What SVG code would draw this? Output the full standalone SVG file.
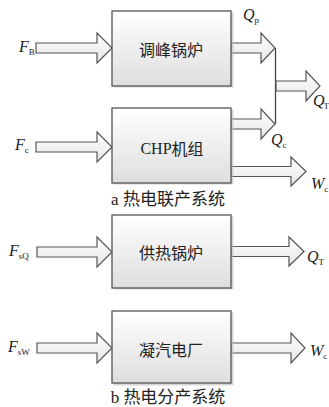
<svg xmlns="http://www.w3.org/2000/svg" width="329" height="407" viewBox="0 0 329 407">
<defs>
<linearGradient id="boxg" x1="0" y1="0" x2="0" y2="1">
<stop offset="0" stop-color="#ffffff"/>
<stop offset="1" stop-color="#dedede"/>
</linearGradient>
<linearGradient id="arrg" x1="0" y1="0" x2="0" y2="1">
<stop offset="0" stop-color="#ffffff"/>
<stop offset="1" stop-color="#e6e6e6"/>
</linearGradient>
</defs>
<style>
.box{fill:url(#boxg);stroke:#555;stroke-width:1.3}
.shadow{fill:#bbb;opacity:0.6}
.arr{fill:url(#arrg);stroke:#555;stroke-width:1.2;stroke-linejoin:miter}
.line{stroke:#444;stroke-width:1.3;fill:none}
.cn{font-family:"Noto Sans CJK SC",sans-serif;font-size:16px;fill:#222;text-anchor:middle;dominant-baseline:central}
.cap{font-family:"Liberation Serif","Noto Sans CJK SC",serif;font-size:17px;fill:#222;text-anchor:middle}
.var{font-family:"Liberation Serif",serif;font-style:italic;font-size:16px;fill:#222}
.sub{font-family:"Liberation Serif",serif;font-style:normal;font-size:9px}
</style>
<g id="connectors">
<path class="arr" d="M36,43 H97 V33 L112,48 L97,63 V53 H36 Z"/>
<path class="arr" d="M231,43 H261 V33 L275,48 L261,63 V53 H231 Z"/>
<path class="line" d="M275.5,48 V124"/>
<path class="arr" d="M276,81 H306 V71 L320,86 L306,101 V91 H276 Z"/>
<path class="arr" d="M36,142 H97 V132 L112,147 L97,162 V152 H36 Z"/>
<path class="arr" d="M231,119 H261 V109 L275,124 L261,139 V129 H231 Z"/>
<path class="arr" d="M231,166.5 H291 V157 L306,171.5 L291,186 V176.5 H231 Z"/>
<path class="arr" d="M37,247 H97 V237 L112,252 L97,267 V257 H37 Z"/>
<path class="arr" d="M231,246.5 H289 V237 L304,251.5 L289,266 V256.5 H231 Z"/>
<path class="arr" d="M37,343 H97 V333 L112,348 L97,363 V353 H37 Z"/>
<path class="arr" d="M231,343 H291 V333 L305,348 L291,363 V353 H231 Z"/>
</g>
<g id="node-tiaofeng">
<rect class="shadow" x="113.5" y="12.5" width="120" height="75"/>
<rect class="box" x="112" y="11" width="119" height="75"/>
<text class="cn" x="171" y="49">调峰锅炉</text>
</g>
<g id="node-chp">
<rect class="shadow" x="113.5" y="109.5" width="120" height="75"/>
<rect class="box" x="112" y="108" width="119" height="75"/>
<text class="cn" x="172" y="148"><tspan font-family="Liberation Serif">CHP</tspan>机组</text>
</g>
<g id="node-gongre">
<rect class="shadow" x="113.5" y="216.5" width="120" height="73"/>
<rect class="box" x="112" y="215" width="119" height="73"/>
<text class="cn" x="171" y="252">供热锅炉</text>
</g>
<g id="node-ningqi">
<rect class="shadow" x="113.5" y="312.5" width="120" height="73"/>
<rect class="box" x="112" y="311" width="119" height="72"/>
<text class="cn" x="171" y="349">凝汽电厂</text>
</g>
<g id="labels">
<text class="var" x="19" y="52">F<tspan class="sub" dy="3">B</tspan></text>
<text class="var" x="15" y="150">F<tspan class="sub" dy="3">c</tspan></text>
<text class="var" x="243" y="20">Q<tspan class="sub" dy="3">p</tspan></text>
<text class="var" x="313" y="106" font-size="15">Q<tspan class="sub" dy="3" dx="-1" font-size="8">T</tspan></text>
<text class="var" x="271" y="145">Q<tspan class="sub" dy="3">c</tspan></text>
<text class="var" x="311" y="189">W<tspan class="sub" dy="3">c</tspan></text>
<text class="var" x="9" y="256">F<tspan class="sub" dy="3">sQ</tspan></text>
<text class="var" x="307" y="262">Q<tspan class="sub" dy="3">T</tspan></text>
<text class="var" x="8" y="352">F<tspan class="sub" dy="3">sW</tspan></text>
<text class="var" x="310" y="356">W<tspan class="sub" dy="3">c</tspan></text>
<text class="cap" x="168" y="205">a 热电联产系统</text>
<text class="cap" x="168" y="403">b 热电分产系统</text>
</g>
</svg>
